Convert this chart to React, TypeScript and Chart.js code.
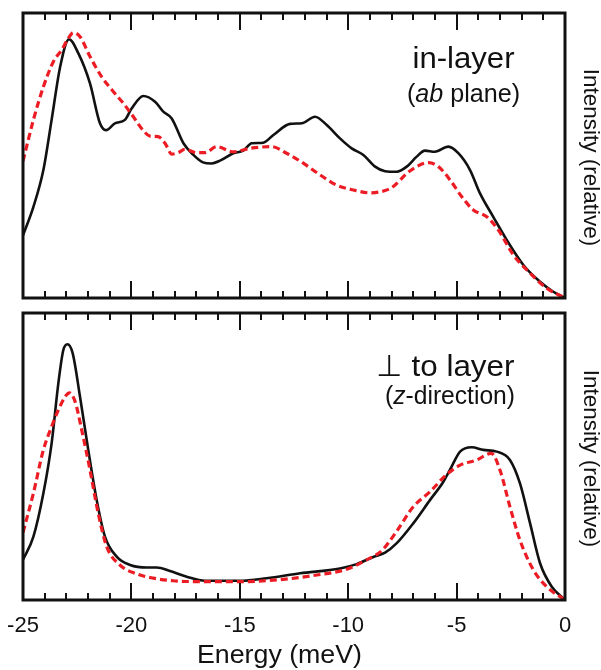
import React, { useEffect, useRef } from 'react';
import { Chart, registerables } from 'chart.js';

Chart.register(...registerables);

// ---- Energy axis (meV) ----
const energyMin = -25;
const energyMax = 0;
const energyStep = 5;

// ---- In-layer (ab plane) spectra ----
const inLayerSolidE = [
  -25, -24.52, -24.06, -23.68, -23.29, -22.88, -22.45, -21.91, -21.45, -21.17,
  -20.76, -20.3, -19.99, -19.45, -18.91, -18.53, -18.14, -17.6, -17.14, -16.7,
  -16.3, -15.91, -15.3, -14.84, -14.45, -13.92, -13.45, -12.68, -12.14, -11.53,
  -10.99, -10.38, -9.84, -9.3, -8.76, -8.3, -7.76, -7.3, -6.84, -6.46,
  -6.0, -5.38, -4.92, -4.38, -3.92, -3.31, -2.69, -1.92, -1.15, -0.54, 0,
];
const inLayerSolidI = [
  0.22, 0.32, 0.449, 0.625, 0.81, 0.908, 0.859, 0.753, 0.613, 0.589,
  0.613, 0.625, 0.665, 0.709, 0.689, 0.654, 0.63, 0.543, 0.502, 0.476,
  0.472, 0.482, 0.508, 0.517, 0.543, 0.545, 0.572, 0.611, 0.613, 0.636,
  0.607, 0.56, 0.525, 0.502, 0.461, 0.445, 0.443, 0.461, 0.496, 0.517,
  0.513, 0.531, 0.508, 0.449, 0.367, 0.285, 0.204, 0.116, 0.057, 0.022, 0,
];
const inLayerDashedE = [
  -25, -24.52, -24.06, -23.6, -23.22, -22.91, -22.68, -22.37, -21.91, -21.37,
  -20.83, -20.37, -19.91, -19.53, -19.14, -18.76, -18.45, -18.14, -17.84, -17.53,
  -16.99, -16.6, -16.07, -15.3, -14.53, -13.53, -12.84, -12.07, -11.3, -10.53,
  -9.76, -9.0, -8.3, -7.92, -7.3, -6.84, -6.3, -5.84, -5.3, -4.76,
  -4.23, -3.61, -3.08, -2.38, -1.61, -0.84, 0,
];
const inLayerDashedI = [
  0.48, 0.625, 0.741, 0.829, 0.87, 0.911, 0.931, 0.917, 0.847, 0.776,
  0.724, 0.683, 0.636, 0.595, 0.568, 0.566, 0.543, 0.505, 0.51, 0.522,
  0.51, 0.51, 0.531, 0.513, 0.525, 0.531, 0.508, 0.473, 0.432, 0.396,
  0.379, 0.369, 0.377, 0.391, 0.437, 0.461, 0.475, 0.461, 0.414, 0.355,
  0.309, 0.285, 0.239, 0.151, 0.087, 0.034, 0,
];

// ---- Perpendicular to layer (z-direction) spectra ----
const zDirSolidE = [
  -25, -24.52, -24.06, -23.68, -23.37, -23.14, -22.95, -22.71, -22.37, -21.99,
  -21.6, -21.22, -20.68, -20.06, -19.29, -18.83, -18.22, -17.45, -16.6, -14.99,
  -13.76, -12.22, -10.38, -9.61, -8.84, -8.3, -7.76, -7.0, -6.23, -5.61,
  -5.23, -4.84, -4.3, -3.77, -3.15, -2.54, -2.08, -1.61, -1.15, -0.61, 0,
];
const zDirSolidI = [
  0.14, 0.221, 0.372, 0.546, 0.755, 0.871, 0.891, 0.86, 0.708, 0.523,
  0.348, 0.221, 0.151, 0.122, 0.113, 0.113, 0.101, 0.081, 0.067, 0.067,
  0.076, 0.093, 0.11, 0.125, 0.15, 0.165, 0.198, 0.267, 0.348, 0.412,
  0.465, 0.517, 0.532, 0.523, 0.517, 0.488, 0.407, 0.267, 0.128, 0.046, 0,
];
const zDirDashedE = [
  -25, -24.52, -24.06, -23.68, -23.37, -23.06, -22.86, -22.6, -22.29, -21.91,
  -21.53, -21.14, -20.53, -19.76, -18.99, -18.07, -16.6, -14.99, -12.99, -11.45,
  -10.07, -9.15, -8.45, -7.76, -7.0, -6.23, -5.46, -4.84, -4.07, -3.4,
  -3.0, -2.54, -2.08, -1.46, -0.84, 0,
];
const zDirDashedI = [
  0.235, 0.372, 0.523, 0.604, 0.662, 0.708, 0.722, 0.692, 0.592, 0.453,
  0.302, 0.186, 0.122, 0.091, 0.076, 0.067, 0.064, 0.064, 0.072, 0.087,
  0.107, 0.14, 0.172, 0.24, 0.325, 0.377, 0.437, 0.47, 0.488, 0.511,
  0.453, 0.325, 0.209, 0.105, 0.046, 0,
];

const SANS = '"Liberation Sans", Arial, Helvetica, sans-serif';
const SYMBOL = '"DejaVu Sans", sans-serif';
const INK = '#111111';
const RED = 'rgb(236, 28, 36)';

type Part = { text: string; italic?: boolean; family?: string };

// Draw a run of text pieces, stretched horizontally to a given width.
function drawRun(
  ctx: CanvasRenderingContext2D,
  parts: Part[],
  x: number,
  baseline: number,
  width: number,
  size: number,
) {
  const fontOf = (p: Part) => `${p.italic ? 'italic ' : ''}${size}px ${p.family ?? SANS}`;
  let natural = 0;
  for (const p of parts) {
    ctx.font = fontOf(p);
    natural += ctx.measureText(p.text).width;
  }
  const sx = width / natural;
  ctx.save();
  ctx.translate(x, baseline);
  ctx.scale(sx, 1);
  ctx.fillStyle = INK;
  ctx.textAlign = 'left';
  ctx.textBaseline = 'alphabetic';
  let cx = 0;
  for (const p of parts) {
    ctx.font = fontOf(p);
    ctx.fillText(p.text, cx, 0);
    cx += ctx.measureText(p.text).width;
  }
  ctx.restore();
}

type Labeler = (ctx: CanvasRenderingContext2D, area: { left: number; top: number; right: number; bottom: number }) => void;

function makePanelPlugin(label: Labeler) {
  return {
    id: 'panelFrame',
    afterDatasetsDraw(chart: any) {
      const { ctx, chartArea } = chart;
      const xs = chart.scales.x;
      const { left, right, top, bottom } = chartArea;
      ctx.save();
      ctx.strokeStyle = INK;
      ctx.lineCap = 'butt';
      // inward ticks, every 1 meV, longer every 5 meV
      ctx.lineWidth = 2;
      for (let e = energyMin + 1; e < energyMax; e++) {
        const px = Math.round(xs.getPixelForValue(e));
        const len = e % energyStep === 0 ? 17 : 7;
        ctx.beginPath();
        ctx.moveTo(px, top);
        ctx.lineTo(px, top + len);
        ctx.moveTo(px, bottom);
        ctx.lineTo(px, bottom - len);
        ctx.stroke();
      }
      // frame
      ctx.lineWidth = 3;
      ctx.strokeRect(left, top, right - left, bottom - top);
      // right-hand axis label
      ctx.fillStyle = INK;
      ctx.font = `22.5px ${SANS}`;
      ctx.textAlign = 'center';
      ctx.textBaseline = 'middle';
      ctx.translate(right + 25, (top + bottom) / 2 + 2);
      ctx.rotate(Math.PI / 2);
      ctx.fillText('Intensity (relative)', 0, 0);
      ctx.restore();
      ctx.save();
      label(ctx, chartArea);
      ctx.restore();
    },
  };
}

function buildConfig(
  solidE: number[], solidI: number[], dashedE: number[], dashedI: number[],
  withAxis: boolean, label: Labeler,
): any {
  return {
    type: 'line',
    data: {
      datasets: [
        {
          data: dashedE.map((e, i) => ({ x: e, y: dashedI[i] })),
          borderColor: RED,
          borderWidth: 3.2,
          borderDash: [7, 4],
          pointRadius: 0,
          cubicInterpolationMode: 'monotone',
          fill: false,
          order: 0,
        },
        {
          data: solidE.map((e, i) => ({ x: e, y: solidI[i] })),
          borderColor: INK,
          borderWidth: 2.6,
          pointRadius: 0,
          cubicInterpolationMode: 'monotone',
          fill: false,
          order: 1,
        },
      ],
    },
    options: {
      responsive: false,
      animation: false,
      events: [],
      layout: { padding: { left: 23, right: 36, top: 13, bottom: withAxis ? 0 : 2 } },
      plugins: { legend: { display: false }, tooltip: { enabled: false } },
      scales: {
        x: {
          type: 'linear',
          min: energyMin,
          max: energyMax,
          display: withAxis,
          grid: { display: false, drawTicks: false },
          border: { display: false },
          ticks: {
            stepSize: energyStep,
            maxRotation: 0,
            padding: 13,
            color: INK,
            font: { family: SANS, size: 22 },
            callback: (v: number) => String(v),
          },
          afterFit: (s: any) => {
            if (!withAxis) return;
            s.height = 70;
            s.paddingLeft = 0;
            s.paddingRight = 0;
          },
        },
        y: { min: 0, max: 1, display: false },
      },
    },
    plugins: [makePanelPlugin(label)],
  };
}

const inLayerTitle = 'in-layer';
const perpTitle = 'to layer';
const perpSymbol = '\u22A5';

const labelInLayer: Labeler = (ctx) => {
  drawRun(ctx, [{ text: inLayerTitle }], 412.5, 67.7, 102, 30);
  drawRun(ctx, [{ text: '(' }, { text: 'ab', italic: true }, { text: ' plane)' }], 407, 101.5, 113, 25);
};

const labelZDir: Labeler = (ctx) => {
  drawRun(ctx, [{ text: perpSymbol, family: SYMBOL }], 376, 75.5, 26, 30);
  drawRun(ctx, [{ text: perpTitle }], 411.5, 75.5, 103, 30);
  drawRun(ctx, [{ text: '(' }, { text: 'z', italic: true }, { text: '-direction)' }], 385, 103.5, 130, 25);
  drawRun(ctx, [{ text: 'Energy (meV)' }], 197, 362.5, 165, 25);
};

function Panel(props: {
  top: number; height: number;
  solidE: number[]; solidI: number[]; dashedE: number[]; dashedI: number[];
  withAxis: boolean; label: Labeler;
}) {
  const ref = useRef<HTMLCanvasElement | null>(null);
  useEffect(() => {
    if (!ref.current) return;
    const chart = new Chart(
      ref.current,
      buildConfig(props.solidE, props.solidI, props.dashedE, props.dashedI, props.withAxis, props.label),
    );
    return () => chart.destroy();
  }, []);
  return (
    <canvas
      ref={ref}
      width={601}
      height={props.height}
      style={{ position: 'absolute', left: 0, top: props.top, width: 601, height: props.height }}
    />
  );
}

export default function App() {
  return (
    <div style={{ position: 'absolute', left: 0, top: 0, width: 601, height: 670, background: '#ffffff' }}>
      <Panel
        top={0}
        height={300}
        solidE={inLayerSolidE}
        solidI={inLayerSolidI}
        dashedE={inLayerDashedE}
        dashedI={inLayerDashedI}
        withAxis={false}
        label={labelInLayer}
      />
      <Panel
        top={300}
        height={370}
        solidE={zDirSolidE}
        solidI={zDirSolidI}
        dashedE={zDirDashedE}
        dashedI={zDirDashedI}
        withAxis={true}
        label={labelZDir}
      />
    </div>
  );
}
